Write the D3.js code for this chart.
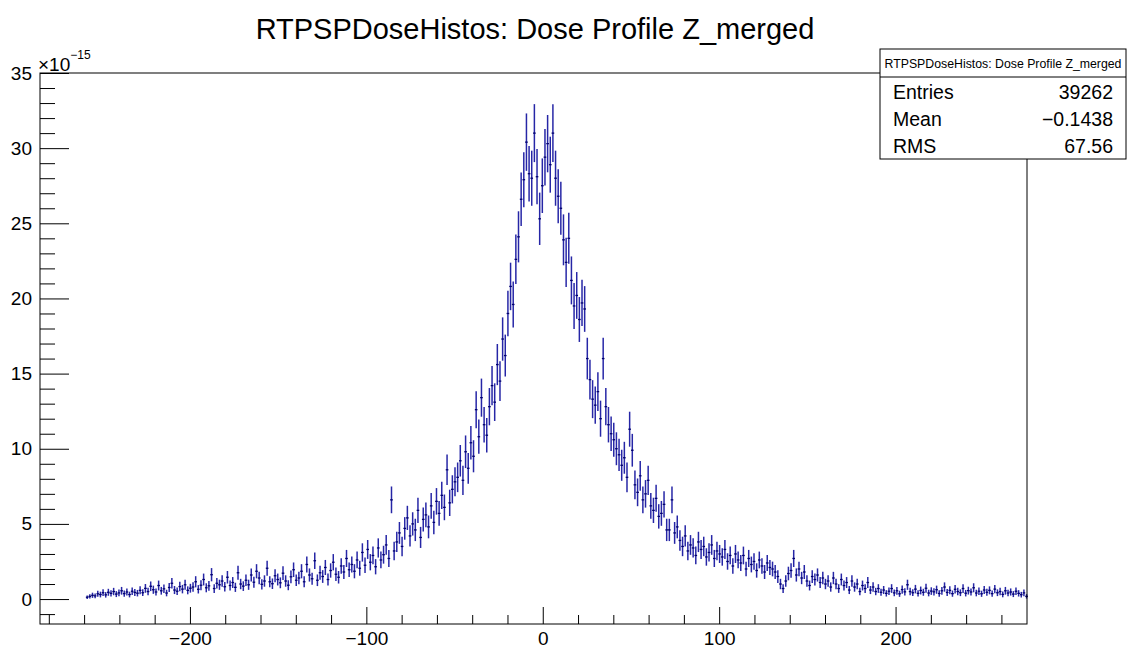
<!DOCTYPE html>
<html><head><meta charset="utf-8">
<script src="https://cdn.jsdelivr.net/npm/d3@7"></script>
<style>body{margin:0;background:#fff}svg{display:block}text{font-family:"Liberation Sans",Arial,Helvetica,sans-serif}</style>
</head><body><svg id="c" width="1131" height="650"></svg>
<script>
const titleText = "RTPSPDoseHistos: Dose Profile Z_merged";
const binStart = -259, binWidth = 1.5;
// bin contents, units of 1e-15 (356 bins, -259 .. 275)
const values = [
 0.12,0.18,0.25,0.21,0.35,0.30,0.42,0.28,0.45,0.38,0.50,0.33,0.41,0.55,0.36,0.47,0.30,0.52,0.44,0.39,
 0.58,0.42,0.71,0.50,0.85,0.62,0.47,0.90,0.55,0.68,0.40,0.77,1.05,0.60,0.52,0.83,0.66,0.95,0.58,0.72,
 0.80,1.15,0.65,0.92,1.30,0.75,0.88,1.62,0.70,1.05,0.95,1.20,0.82,1.45,0.90,1.10,0.78,1.75,1.00,0.86,
 1.25,0.95,1.60,1.12,1.85,1.40,0.98,1.20,2.05,1.15,1.02,1.55,1.30,1.08,1.72,1.20,0.92,1.48,1.95,1.25,
 1.40,1.85,1.15,2.30,1.60,1.35,2.55,1.25,1.75,1.50,2.10,1.30,1.90,2.45,1.65,1.45,2.20,1.80,2.70,1.95,
 2.30,1.85,2.60,2.05,3.10,2.25,3.30,2.45,2.90,2.15,3.40,2.60,2.95,3.60,2.70,6.60,3.20,3.80,4.40,3.50,
 4.70,5.40,4.20,5.00,4.60,5.90,4.10,5.30,5.60,4.80,6.20,5.10,6.50,5.70,6.90,6.10,8.60,6.40,7.30,7.80,
 8.10,9.20,7.90,9.80,8.70,10.40,9.50,12.60,10.80,13.40,11.60,10.90,12.80,14.20,13.10,15.60,14.50,17.30,16.20,19.00,
 20.8,19.6,22.6,24.1,26.6,27.9,30.4,28.3,28.0,31.0,28.1,25.3,27.5,29.4,30.3,28.9,31.0,28.0,26.8,26.0,
 23.9,22.4,24.0,21.2,19.5,20.2,18.6,19.7,19.3,16.0,14.6,13.3,12.9,13.8,12.0,16.0,12.8,11.6,11.0,10.6,
 10.0,9.6,8.9,9.4,8.1,11.3,9.9,7.6,7.1,8.2,6.6,7.0,7.9,6.2,5.9,6.7,5.5,5.7,6.3,4.6,
 4.6,6.6,4.4,4.8,3.9,3.5,4.2,3.2,3.6,3.4,2.9,3.8,3.3,3.5,2.8,3.1,3.6,2.7,3.2,3.0,
 2.8,3.3,2.5,2.9,2.2,3.0,2.6,2.4,2.9,2.0,2.7,2.3,2.5,1.9,2.6,2.2,1.8,2.4,2.1,2.0,
 1.8,1.5,1.0,0.7,1.2,1.7,1.9,2.7,1.6,2.0,1.4,1.8,1.2,0.9,1.5,1.3,1.6,1.1,1.4,1.0,
 1.2,0.8,1.4,1.0,0.7,1.3,0.9,1.1,0.6,1.2,0.8,1.0,0.5,0.9,0.7,1.1,0.6,0.8,0.5,0.7,
 0.45,0.60,0.38,0.52,0.70,0.41,0.55,0.35,0.63,0.48,0.95,0.50,0.42,0.66,0.38,0.57,0.45,0.72,0.40,0.53,
 0.48,0.62,0.37,0.55,0.80,0.44,0.58,0.36,0.65,0.50,0.42,0.70,0.39,0.56,0.47,0.75,0.40,0.52,0.35,0.60,
 0.45,0.58,0.36,0.66,0.42,0.50,0.31,0.55,0.40,0.47,0.33,0.52,0.38,0.29,0.41,0.18
];
const errScale = 0.12; // statistical error: sqrt(content * scale)
const statLabels = ["Entries", "Mean", "RMS"];
const statValues = ["39262", "\u22120.1438", "67.56"];
const xMajorTicks = [-200, -100, 0, 100, 200];
const xMinorTicks = [-280,-260,-240,-220,-180,-160,-140,-120,-80,-60,-40,-20,20,40,60,80,120,140,160,180,220,240,260];
const yMajorTicks = [0, 5, 10, 15, 20, 25, 30, 35];
const yMinorTicks = [-1,1,2,3,4,6,7,8,9,11,12,13,14,16,17,18,19,21,22,23,24,26,27,28,29,31,32,33,34];

const svg = d3.select("#c");
const L = 40, R = 1027, T = 73, B = 624;
const x = d3.scaleLinear().domain([-285, 274.5]).range([L, R]);
const y = d3.scaleLinear().domain([-1.66, 35]).range([B, T]);
const col = "#000096";

// data
const bins = values.map((v, i) => {
  const lo = binStart + i * binWidth, hi = lo + binWidth;
  return {lo, hi, c: (lo + hi) / 2, v, e: Math.sqrt(v * errScale)};
});
const g = svg.append("g");
g.selectAll("line.ev").data(bins).join("line").attr("class", "ev")
  .attr("x1", d => x(d.c)).attr("x2", d => x(d.c))
  .attr("y1", d => y(d.v - d.e)).attr("y2", d => y(d.v + d.e))
  .attr("stroke", col).attr("stroke-width", 1.5).attr("stroke-opacity", 0.85);
g.selectAll("line.eh").data(bins).join("line").attr("class", "eh")
  .attr("x1", d => x(d.lo)).attr("x2", d => x(d.hi))
  .attr("y1", d => y(d.v)).attr("y2", d => y(d.v))
  .attr("stroke", "#00006e").attr("stroke-width", 1.3);

// axes
function styleAxis(sel) {
  sel.select(".domain").remove();
  sel.selectAll("line").attr("stroke", "#000").attr("stroke-width", 1);
  sel.selectAll("text").attr("font-size", 19).attr("fill", "#000")
     .attr("font-family", "'Liberation Sans', Arial, sans-serif");
}
svg.append("g").attr("transform", `translate(0,${B})`)
  .call(d3.axisBottom(x).tickValues(xMajorTicks).tickSize(-17).tickPadding(7.5).tickFormat(d3.format("d")))
  .call(styleAxis);
svg.append("g").attr("transform", `translate(0,${B})`)
  .call(d3.axisBottom(x).tickValues(xMinorTicks).tickSize(-9).tickFormat(""))
  .call(styleAxis);
svg.append("g").attr("transform", `translate(${L},0)`)
  .call(d3.axisLeft(y).tickValues(yMajorTicks).tickSize(-29).tickPadding(8).tickFormat(d3.format("d")))
  .call(styleAxis);
svg.append("g").attr("transform", `translate(${L},0)`)
  .call(d3.axisLeft(y).tickValues(yMinorTicks).tickSize(-15).tickFormat(""))
  .call(styleAxis);

// frame
svg.append("rect").attr("x", L).attr("y", T).attr("width", R - L).attr("height", B - T)
  .attr("fill", "none").attr("stroke", "#000").attr("stroke-width", 1);

// exponent
const ex = svg.append("text").attr("x", 38).attr("y", 71).attr("font-size", 19);
ex.append("tspan").text("\u00d710");
ex.append("tspan").attr("font-size", 12).attr("dy", -12).text("\u221215");

// title
svg.append("text").attr("x", 535).attr("y", 39).attr("text-anchor", "middle")
  .attr("font-size", 29).text(titleText);

// stats box
const sx0 = 880, sx1 = 1126, sy0 = 49, sy1 = 159, sh = 77;
svg.append("rect").attr("x", sx0).attr("y", sy0).attr("width", sx1 - sx0).attr("height", sy1 - sy0)
  .attr("fill", "#fff").attr("stroke", "#000").attr("stroke-width", 1);
svg.append("line").attr("x1", sx0).attr("x2", sx1).attr("y1", sh).attr("y2", sh).attr("stroke", "#000");
svg.append("text").attr("x", (sx0 + sx1) / 2).attr("y", 68).attr("text-anchor", "middle")
  .attr("font-size", 12.3).text(titleText);
const rowY = [99, 126, 153];
statLabels.forEach((s, i) => {
  svg.append("text").attr("x", 893).attr("y", rowY[i]).attr("font-size", 19.5).text(s);
  svg.append("text").attr("x", 1113).attr("y", rowY[i]).attr("text-anchor", "end").attr("font-size", 19.5).text(statValues[i]);
});
</script></body></html>
